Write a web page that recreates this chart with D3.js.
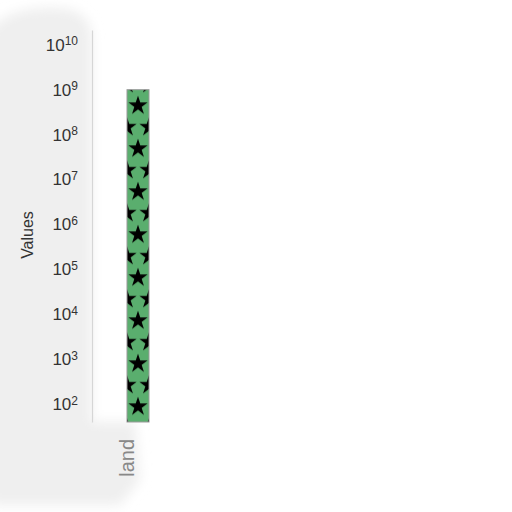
<!DOCTYPE html>
<html>
<head>
<meta charset="utf-8">
<script src="https://cdn.jsdelivr.net/npm/d3@7"></script>
<style>
  body { margin: 0; background: #fff; }
  svg { display: block; font-family: "Liberation Sans", Arial, sans-serif; }
</style>
</head>
<body>
<svg id="chart"></svg>
<script>
// data
const categories = ["land"];
const values = [1e9];
const tickValues = [1e2, 1e3, 1e4, 1e5, 1e6, 1e7, 1e8, 1e9, 1e10];

const width = 512, height = 512;
const margin = { top: 30, right: 20, bottom: 90, left: 92 };

const svg = d3.select("#chart").attr("width", width).attr("height", height);

// soft grey backdrop seen behind the axis area
const defs = svg.append("defs");
defs.append("filter").attr("id", "soft")
  .append("feGaussianBlur").attr("stdDeviation", 6);
svg.append("path")
  .attr("d", "M-10,30 Q10,5 60,8 Q92,10 92,40 L92,422 L135,422 L140,480 L120,505 L-10,505 Z")
  .attr("fill", "#efefef")
  .attr("filter", "url(#soft)");

const chart = svg.append("g").attr("transform", `translate(${margin.left},${margin.top})`);
const innerW = width - margin.left - margin.right;
const innerH = height - margin.top - margin.bottom;

const x = d3.scaleBand()
  .domain(categories)
  .range([35, 57])
  .padding(0);

// 10^2 sits at y=404, each decade ~44.9px
const decade = 44.9;
const yBottom = Math.pow(10, 2 - (422 - 404) / decade);
const yTop = Math.pow(10, 2 + (404 - 30) / decade);
const y = d3.scaleLog()
  .domain([yBottom, yTop])
  .range([innerH, 0]);

// star pattern used as hatch (in chart coordinates)
const tileW = x.bandwidth(), tileH = 43;
const pat = defs.append("pattern")
  .attr("id", "stars")
  .attr("patternUnits", "userSpaceOnUse")
  .attr("x", x(categories[0]))
  .attr("y", y(values[0]) - 5.5)
  .attr("width", tileW).attr("height", tileH);
pat.append("rect").attr("width", tileW).attr("height", tileH).attr("fill", "#5aae6e");
const star = d3.symbol().type(d3.symbolStar).size(115);
[[tileW / 2, tileH / 2], [0, 0], [tileW, 0], [0, tileH], [tileW, tileH]].forEach(p => {
  pat.append("path")
    .attr("d", star())
    .attr("transform", `translate(${p[0]},${p[1]})`)
    .attr("fill", "#000");
});

// y axis
const yAxis = d3.axisLeft(y).tickValues(tickValues).tickSize(0).tickFormat("");
const yAxisG = chart.append("g").call(yAxis);
yAxisG.select(".domain").attr("stroke", "#d6d6d6").attr("stroke-width", 1.2);

const labels = chart.append("g");
tickValues.forEach(v => {
  const e = Math.round(Math.log10(v));
  const t = labels.append("text")
    .attr("x", -14)
    .attr("y", y(v))
    .attr("dy", "0.35em")
    .attr("text-anchor", "end")
    .attr("fill", "#333")
    .style("font-size", "17px");
  t.append("tspan").text("10");
  t.append("tspan").attr("dy", "-0.45em").style("font-size", "12px").text(String(e));
});

// bars
chart.selectAll("rect.bar")
  .data(values)
  .join("rect")
  .attr("class", "bar")
  .attr("x", (d, i) => x(categories[i]))
  .attr("y", d => y(d))
  .attr("width", x.bandwidth())
  .attr("height", d => innerH - y(d))
  .attr("fill", "url(#stars)")
  .attr("stroke", "#9a9a9a")
  .attr("stroke-width", 1);

// x labels (rotated)
chart.selectAll("text.xlab")
  .data(categories)
  .join("text")
  .attr("class", "xlab")
  .attr("transform", d => `translate(${x(d) + x.bandwidth() / 2 - 11},${innerH + 17}) rotate(-90)`)
  .attr("dy", "0.35em")
  .attr("text-anchor", "end")
  .attr("fill", "#888")
  .style("font-size", "20px")
  .text(d => d);

// y title
svg.append("text")
  .attr("transform", `translate(27,235) rotate(-90)`)
  .attr("dy", "0.35em")
  .attr("text-anchor", "middle")
  .attr("fill", "#333")
  .style("font-size", "16px")
  .text("Values");
</script>
</body>
</html>
